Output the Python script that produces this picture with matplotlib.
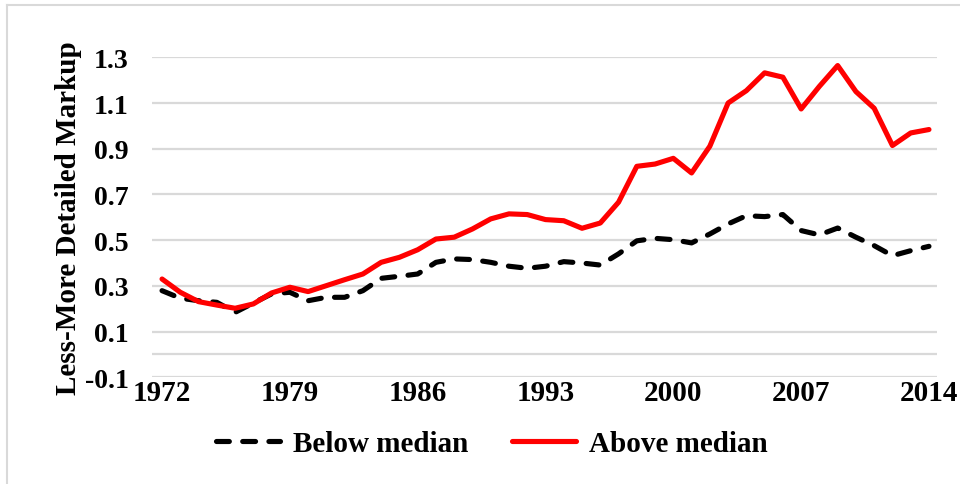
import matplotlib
matplotlib.use("Agg")
import matplotlib.pyplot as plt
from matplotlib.lines import Line2D
import numpy as np

years = list(range(1972, 2015))
below_median = [0.279, 0.246, 0.235, 0.228, 0.184, 0.225, 0.265, 0.272, 0.235, 0.250,
                0.250, 0.279, 0.333, 0.342, 0.352, 0.403, 0.418, 0.415, 0.403, 0.386,
                0.377, 0.386, 0.406, 0.400, 0.391, 0.440, 0.497, 0.508, 0.502, 0.488,
                0.527, 0.571, 0.607, 0.603, 0.612, 0.542, 0.523, 0.553, 0.513, 0.476,
                0.432, 0.454, 0.473]
above_median = [0.330, 0.272, 0.231, 0.216, 0.202, 0.221, 0.269, 0.294, 0.275, 0.301,
                0.327, 0.352, 0.403, 0.425, 0.458, 0.505, 0.513, 0.549, 0.593, 0.615,
                0.612, 0.590, 0.585, 0.552, 0.575, 0.666, 0.823, 0.833, 0.858, 0.794,
                0.911, 1.100, 1.154, 1.232, 1.213, 1.074, 1.173, 1.264, 1.150, 1.077,
                0.914, 0.969, 0.984]
xtick_labels = [1972, 1979, 1986, 1993, 2000, 2007, 2014]
ytick_values = [-0.1, 0.1, 0.3, 0.5, 0.7, 0.9, 1.1, 1.3]

plt.rcParams['font.family'] = ['Liberation Serif', 'DejaVu Serif']
plt.rcParams['font.weight'] = 'bold'

W, H = 960, 485
fig = plt.figure(figsize=(W / 100, H / 100), dpi=100)
ax = fig.add_axes([152 / W, 1 - 378.3 / H, 785 / W, 320 / H])

grid_color = '#d9d9d9'
for v in ytick_values + [0.0]:
    ax.axhline(v, color=grid_color, lw=1.6, zorder=0)

ax.plot(years, below_median, color='black', lw=3.7, linestyle=(0, (2.5, 2.6)),
        dash_capstyle='round', solid_joinstyle='round', label='Below median', zorder=3)
ax.plot(years, above_median, color='#ff0000', lw=3.7, solid_capstyle='round',
        solid_joinstyle='round', label='Above median', zorder=4)

ax.set_xlim(1971.45, 2014.44)
ax.set_ylim(-0.1, 1.3)
ax.set_xticks(xtick_labels)
ax.set_xticklabels([str(y) for y in xtick_labels])
ax.set_yticks(ytick_values)
ax.set_yticklabels([f"{v:.1f}" for v in ytick_values])
ax.tick_params(axis='both', length=0)
ax.tick_params(axis='y', pad=17, labelsize=20)
ax.tick_params(axis='x', pad=1, labelsize=21)
for s in ax.spines.values():
    s.set_visible(False)

ax.set_ylabel('Less-More Detailed Markup', fontsize=21, fontweight='bold', labelpad=2)

handles = [Line2D([], [], color='black', lw=3.7, linestyle=(0, (2.5, 2.6)), dash_capstyle='round'),
           Line2D([], [], color='#ff0000', lw=3.7, solid_capstyle='round')]
fig.legend(handles, ['Below median', 'Above median'], loc='center',
           bbox_to_anchor=(492 / W, 1 - 445 / H), ncol=2, frameon=False,
           fontsize=21, handlelength=2.2, handletextpad=0.45, columnspacing=1.5)

# outer border (left and top visible)
fig.add_artist(Line2D([6.5 / W, 6.5 / W], [0, 1 - 6 / H], transform=fig.transFigure,
                      color='#d9d9d9', lw=1.5))
fig.add_artist(Line2D([6.5 / W, 1], [1 - 6 / H, 1 - 6 / H], transform=fig.transFigure,
                      color='#d9d9d9', lw=1.5))

fig.savefig('out.png', dpi=100)
